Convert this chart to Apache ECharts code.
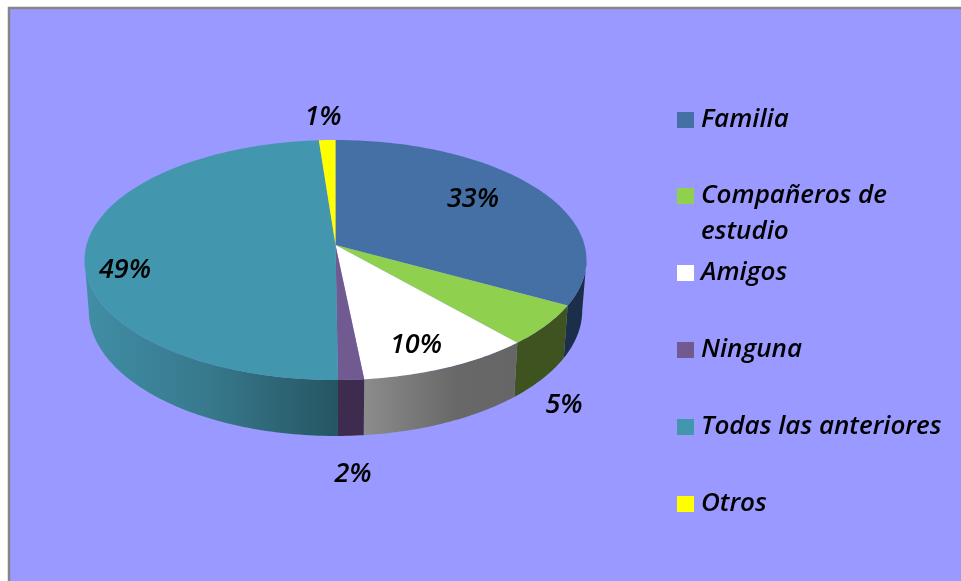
<!DOCTYPE html>
<html>
<head>
<meta charset="utf-8">
<title>Pie</title>
<style>
html, body { margin: 0; padding: 0; background: #fff; }
#chart { width: 961px; height: 581px; }
</style>
<script src="https://cdn.jsdelivr.net/npm/echarts@6/dist/echarts.min.js"></script>
</head>
<body>
<div id="chart"></div>
<script>
const categories = ['Familia', 'Compañeros de', 'Amigos', 'Ninguna', 'Todas las anteriores', 'Otros']
const shares = [33, 5.49, 9.9, 1.47, 48.94, 1.2]
const shareLabels = ['33%', '5%', '10%', '2%', '49%', '1%']
const topColors = ['#4470a5', '#8fd04f', '#ffffff', '#715a90', '#4296ae', '#ffff00']

// label centres, the pie has no real layout rule for them (moved by hand in the original)
const labelPos = [[473, 199], [564, 405], [416, 345], [353, 474], [125, 270], [323, 117]]
const legendCenterY = [118, 194, 271, 348, 425, 502]

const wallColors = [
    '#1b2f4a',
    '#3e5320',
    [['#8c8c8c', 0], ['#686868', 0.6], ['#666666', 1]],
    '#3e2c4e',
    [['#408ea5', 0], ['#37788c', 0.5], ['#265562', 1]],
    '#808000',
]

// projection of the flat disc, top face and bottom face
const apexX = 335.5
const faces = {
    top: { k: 249, a: 118.1, y0: 245 },
    bottom: { k: 244.8, a: 123.6, y0: 294.7 },
}
const persp = -0.125

const project = (face, deg) => {
    const t = deg * Math.PI / 180
    const x = Math.sin(t)
    const y = -Math.cos(t)
    const w = 1 + persp * y
    return [apexX + face.k * x / w, face.y0 + face.a * y / w]
}

const arc = (face, from, to) => {
    const pts = []
    const n = Math.max(2, Math.ceil(Math.abs(to - from)))
    for (let i = 0; i <= n; i++) {
        pts.push(project(face, from + (to - from) * i / n))
    }
    return pts
}

const total = shares.reduce((a, b) => a + b, 0)
const frontFrom = 97.2
const frontTo = 262.8

const renderSlice = (params, api) => {
    const i = params.seriesIndex
    let before = 0
    for (let j = 0; j < i; j++) before += shares[j]
    const start = before / total * 360
    const end = start + api.value(0) / total * 360
    const children = []

    const wallStart = Math.max(start, frontFrom)
    const wallEnd = Math.min(end, frontTo)
    if (wallEnd > wallStart) {
        const wc = wallColors[i]
        const fill = typeof wc === 'string' ? wc : new echarts.graphic.LinearGradient(0, 0, 1, 0,
            wc.map(s => ({ color: s[0], offset: s[1] })))
        children.push({
            type: 'polygon',
            z2: 1,
            shape: { points: arc(faces.top, wallStart, wallEnd).concat(arc(faces.bottom, wallEnd, wallStart)) },
            style: { fill: fill },
        })
    }
    children.push({
        type: 'polygon',
        z2: 2,
        shape: { points: [[apexX, faces.top.y0]].concat(arc(faces.top, start, end)) },
        style: { fill: topColors[i] },
    })
    children.push({
        type: 'text',
        z2: 5,
        style: {
            text: shareLabels[i],
            x: labelPos[i][0],
            y: labelPos[i][1],
            align: 'center',
            verticalAlign: 'middle',
            fill: '#000',
            font: 'italic 600 27px "Open Sans"',
        },
    })
    return { type: 'group', children }
}

const chart = echarts.init(document.getElementById('chart'))
const option = {
    animation: false,
    backgroundColor: '#fff',
    graphic: [
        {
            type: 'rect',
            z: -10,
            shape: { x: 9, y: 8, width: 980, height: 600 },
            style: { fill: '#9999ff', stroke: '#868686', lineWidth: 2.5 },
            silent: true,
        },
        {
            type: 'text',
            z: 10,
            style: {
                text: 'estudio',
                x: 701,
                y: 232,
                verticalAlign: 'middle',
                fill: '#000',
                font: 'italic 600 26px "Open Sans"',
            },
            silent: true,
        },
    ],
    legend: categories.map((name, i) => ({
        data: [name],
        selectedMode: false,
        left: 672,
        top: legendCenterY[i] - 16,
        itemWidth: 17,
        itemHeight: 16,
        itemGap: 0,
        icon: 'rect',
        textStyle: {
            color: '#000',
            fontFamily: 'Open Sans',
            fontStyle: 'italic',
            fontWeight: 600,
            fontSize: 26,
            padding: [0, 0, 0, 2],
        },
    })),
    series: categories.map((name, i) => ({
        type: 'custom',
        name: name,
        coordinateSystem: 'none',
        silent: true,
        clip: false,
        itemStyle: { color: topColors[i] },
        renderItem: renderSlice,
        data: [[shares[i]]],
    })),
}
chart.setOption(option)
window.addEventListener('resize', () => {
    chart.resize()
})
</script>
</body>
</html>
